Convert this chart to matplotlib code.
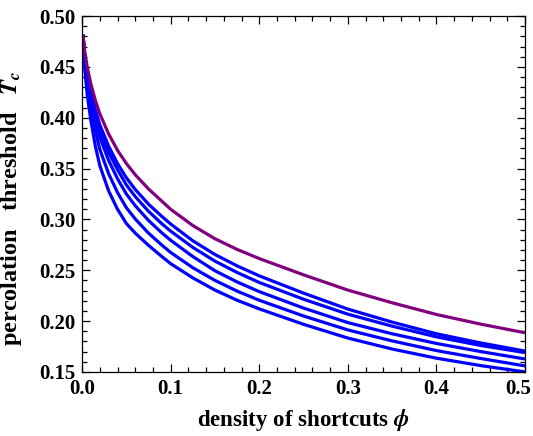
import matplotlib
matplotlib.use("Agg")
import matplotlib.pyplot as plt
import matplotlib.transforms as mtransforms
import numpy as np
from matplotlib.ticker import MultipleLocator, FormatStrFormatter

plt.rcParams['font.family'] = 'Liberation Serif'
plt.rcParams['font.weight'] = 'bold'
plt.rcParams['mathtext.fontset'] = 'stix'

phi = [0.001, 0.003, 0.006, 0.01, 0.015, 0.02, 0.03, 0.04, 0.05, 0.06, 0.075,
       0.09, 0.1, 0.125, 0.15, 0.175, 0.2, 0.25, 0.3, 0.35, 0.4, 0.45, 0.5]

# purple curve
tc_purple = [0.482, 0.465, 0.449, 0.433, 0.417, 0.404, 0.384, 0.368, 0.355, 0.344, 0.330,
             0.318, 0.310, 0.294, 0.281, 0.2705, 0.2615, 0.2455, 0.2305, 0.218, 0.2065, 0.197, 0.1885]

# blue curves, top to bottom
tc_blue1 = [0.482, 0.462, 0.444, 0.426, 0.408, 0.393, 0.372, 0.355, 0.341, 0.3295, 0.315,
            0.303, 0.2955, 0.279, 0.2655, 0.2543, 0.2445, 0.2275, 0.2118, 0.199, 0.1875, 0.1785, 0.1705]
tc_blue2 = [0.482, 0.4595, 0.4405, 0.422, 0.4035, 0.388, 0.366, 0.349, 0.334, 0.3225, 0.308,
            0.2958, 0.2885, 0.2725, 0.259, 0.2478, 0.238, 0.2215, 0.2068, 0.195, 0.1845, 0.176, 0.169]
tc_blue3 = [0.481, 0.456, 0.436, 0.417, 0.397, 0.381, 0.358, 0.340, 0.325, 0.3135, 0.299,
            0.2868, 0.2795, 0.2635, 0.2495, 0.2385, 0.229, 0.2128, 0.1985, 0.1875, 0.178, 0.170, 0.1627]
tc_blue4 = [0.480, 0.453, 0.430, 0.409, 0.387, 0.369, 0.345, 0.3265, 0.3115, 0.3005, 0.2865,
            0.2748, 0.2675, 0.2525, 0.240, 0.2295, 0.2205, 0.205, 0.1913, 0.1805, 0.171, 0.1632, 0.1559]
tc_blue5 = [0.480, 0.448, 0.421, 0.397, 0.372, 0.353, 0.328, 0.310, 0.296, 0.2865, 0.2745,
            0.2635, 0.2565, 0.2425, 0.2305, 0.2205, 0.212, 0.1968, 0.1833, 0.1725, 0.1635, 0.1562, 0.150]

fig = plt.figure(figsize=(5.33, 4.36), dpi=100)
ax = fig.add_axes([0.154, 0.147, 0.831, 0.816])

for tc in [tc_blue1, tc_blue2, tc_blue3, tc_blue4, tc_blue5]:
    ax.plot(phi, tc, color='#0000ff', lw=2.3, solid_capstyle='butt')
ax.plot(phi, tc_purple, color='#800080', lw=2.3, solid_capstyle='butt')

ax.set_xlim(0, 0.5)
ax.set_ylim(0.15, 0.50)
ax.set_xticks([0.0, 0.1, 0.2, 0.3, 0.4, 0.5])
ax.xaxis.set_minor_locator(MultipleLocator(0.02))
ax.yaxis.set_major_locator(MultipleLocator(0.05))
ax.yaxis.set_minor_locator(MultipleLocator(0.01))
ax.xaxis.set_major_formatter(FormatStrFormatter('%.1f'))
ax.yaxis.set_major_formatter(FormatStrFormatter('%.2f'))
ax.tick_params(which='both', direction='in', top=True, right=True, labelsize=15, width=0.9)
ax.tick_params(which='major', length=6)
ax.tick_params(which='minor', length=3.5)
ax.tick_params(axis='x', pad=5)
ax.tick_params(axis='y', pad=5)
for s in ax.spines.values():
    s.set_linewidth(0.9)

# last x label sits a bit inward, like the original
fig.canvas.draw()
for lab in ax.get_xticklabels():
    if lab.get_text() == '0.5':
        lab.set_transform(lab.get_transform() + mtransforms.ScaledTranslation(-0.07, 0, fig.dpi_scale_trans))

ax.set_xlabel(r'density of shortcuts $\boldsymbol{\phi}$', fontsize=16.5, fontweight='bold', labelpad=6)
ax.set_ylabel(r'percolation   threshold   $\boldsymbol{T_c}$', fontsize=17.5, fontweight='bold')
ax.yaxis.set_label_coords(-0.132, 0.46)

fig.savefig('out.png', dpi=100)
